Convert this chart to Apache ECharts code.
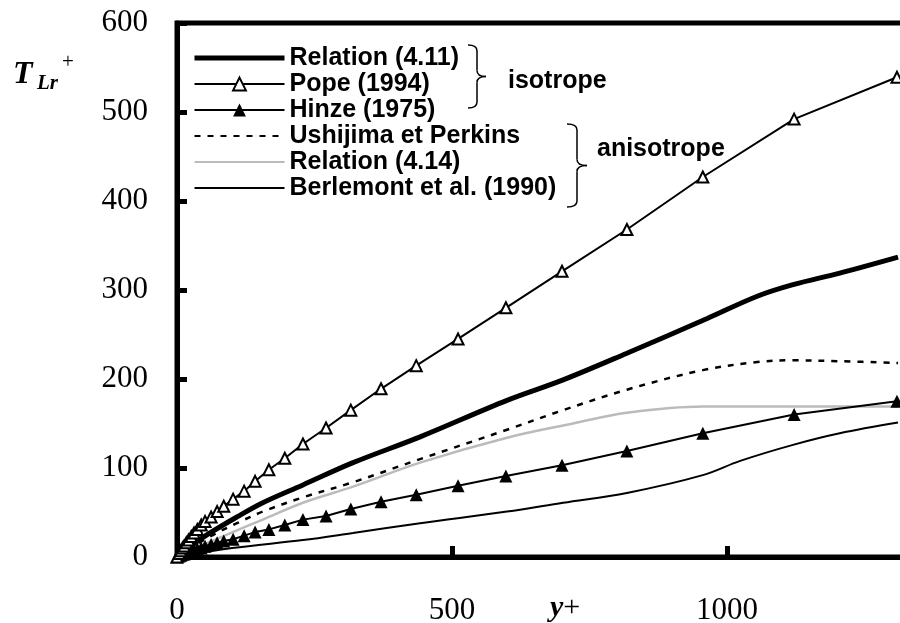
<!DOCTYPE html>
<html>
<head>
<meta charset="utf-8">
<script src="https://cdn.jsdelivr.net/npm/echarts@6/dist/echarts.min.js"></script>
<style>
  html, body { margin: 0; padding: 0; background: #fff; }
  #chart { width: 900px; height: 623px; }
</style>
</head>
<body>
<div id="chart"></div>
<script>
// y+ positions of the marked points (Pope and Hinze share them)
const markX = [0, 4, 7, 10, 13, 17, 21, 26, 31, 37, 44, 51, 62, 73, 85, 102, 122, 142, 167, 196, 229, 271, 316, 371, 435, 511, 598, 700, 818, 956, 1122, 1309];
const popeY = [0, 4, 7, 10, 12.5, 16, 19, 23, 27, 31, 36, 40, 45, 51, 57, 65, 74, 85, 98, 111, 127, 145, 165, 189, 215, 245, 280, 321, 368, 427, 492, 539];
const hinzeY = [0, 1, 2, 3, 3.5, 4.5, 5.5, 6.5, 7.5, 9, 10, 12, 14, 16, 18, 20, 24, 28, 31, 36, 42, 46, 54, 62, 70, 80, 91, 103, 119, 139, 160, 175];

const rel411X = [0, 20, 60, 109, 156, 229, 320, 442, 600, 702, 818, 964, 1055, 1120, 1205, 1311];
const rel411Y = [0, 10, 27, 45, 61, 81, 106, 135, 176, 199, 229, 268, 293, 306, 319, 337];

const ushX = [0, 20, 60, 109, 156, 229, 320, 442, 600, 702, 818, 956, 1055, 1120, 1205, 1311];
const ushY = [0, 8, 23, 38, 51, 67, 84, 110, 143, 165, 188, 210, 219, 221, 220, 218];

const rel414X = [0, 20, 60, 109, 156, 229, 320, 442, 600, 720, 818, 956, 1084, 1205, 1311];
const rel414Y = [0, 6, 17, 30, 42, 61, 79, 106, 134, 150, 162, 169, 169, 169, 169];

const berX = [0, 100, 229, 320, 442, 600, 702, 818, 956, 1024, 1120, 1205, 1311];
const berY = [0, 10, 19, 27, 38, 51, 61, 72, 92, 108, 126, 139, 151];

const names = ['Relation (4.11)', 'Pope (1994)', 'Hinze (1975)', 'Ushijima et Perkins', 'Relation (4.14)', 'Berlemont et al. (1990)'];

const pairs = (xs, ys) => xs.map((x, i) => [x, ys[i]]);

// curly brace opening to the right, built from quadratic curves and lines
function brace(x, y1, y2, w) {
    const m = (y1 + y2) / 2, h = x + w / 2, r = 6;
    const st = {stroke: '#000', lineWidth: 1.5, fill: null};
    const q = (a, b, c, d, e, f) => ({type: 'bezierCurve', shape: {x1: a, y1: b, cpx1: c, cpy1: d, x2: e, y2: f}, style: st});
    const l = (a, b, c, d) => ({type: 'line', shape: {x1: a, y1: b, x2: c, y2: d}, style: st});
    return [
        q(x, y1, h, y1, h, y1 + r),
        l(h, y1 + r, h, m - r),
        q(h, m - r, h, m, x + w, m),
        q(x + w, m, h, m, h, m + r),
        l(h, m + r, h, y2 - r),
        q(h, y2 - r, h, y2, x, y2)
    ];
}

const chart = echarts.init(document.getElementById('chart'));
const serif = 'Liberation Serif';
const sans = 'Liberation Sans';

chart.setOption({
    animation: false,
    backgroundColor: '#fff',
    grid: {
        left: 177, top: 23, width: 726, height: 534,
        outerBoundsMode: 'none',
        show: true, borderColor: '#000', borderWidth: 5
    },
    legend: {
        orient: 'vertical',
        left: 192, top: 45, padding: 0,
        itemWidth: 90, itemHeight: 16, itemGap: 0,
        textStyle: {fontFamily: sans, fontWeight: 'bold', fontSize: 25, lineHeight: 26, color: '#000'},
        data: [
            {name: names[0], itemStyle: {opacity: 0}, lineStyle: {width: 5}},
            {name: names[1]},
            {name: names[2]},
            {name: names[3], itemStyle: {opacity: 0}},
            {name: names[4], itemStyle: {opacity: 0}},
            {name: names[5], itemStyle: {opacity: 0}}
        ]
    },
    xAxis: {
        type: 'value', min: 0, max: 1320, interval: 500,
        axisLine: {lineStyle: {color: '#000', width: 5}},
        axisTick: {inside: true, length: 11, lineStyle: {color: '#000', width: 5}},
        axisLabel: {
            margin: 38, fontFamily: serif, fontSize: 31, color: '#000',
            showMaxLabel: false, formatter: v => String(v)
        },
        splitLine: {show: false}
    },
    yAxis: {
        type: 'value', min: 0, max: 600, interval: 100,
        axisLine: {show: true, lineStyle: {color: '#000', width: 5}},
        axisTick: {show: true, inside: true, length: 10, lineStyle: {color: '#000', width: 5}},
        axisLabel: {margin: 29, fontFamily: serif, fontSize: 31, color: '#000'},
        splitLine: {show: false}
    },
    graphic: [
        {type: 'text', left: 13, top: 59, style: {text: 'T', font: 'italic bold 32px "Liberation Serif"', fill: '#000'}},
        {type: 'text', left: 37, top: 73, style: {text: 'Lr', font: 'italic bold 21px "Liberation Serif"', fill: '#000'}},
        {type: 'text', left: 62, top: 52, style: {text: '+', font: '21px "Liberation Serif"', fill: '#000'}},
        {
            type: 'text', left: 550, top: 593,
            style: {
                text: '{a|y}{b|+}',
                rich: {
                    a: {font: 'italic bold 30px "Liberation Serif"', fill: '#000'},
                    b: {font: '30px "Liberation Serif"', fill: '#000'}
                }
            }
        },
        {type: 'text', left: 508, top: 69, style: {text: 'isotrope', font: 'bold 25px "Liberation Sans"', fill: '#000'}},
        {type: 'text', left: 597, top: 137, style: {text: 'anisotrope', font: 'bold 25px "Liberation Sans"', fill: '#000'}},
        ...brace(468, 45, 108, 18),
        ...brace(567, 124, 207, 20)
    ],
    series: [
        {
            name: names[5], type: 'line', data: pairs(berX, berY),
            symbol: 'none', smooth: 0.35,
            lineStyle: {color: '#000', width: 2}
        },
        {
            name: names[4], type: 'line', data: pairs(rel414X, rel414Y),
            symbol: 'none', smooth: 0.35,
            lineStyle: {color: '#bbbbbb', width: 2.5}
        },
        {
            name: names[3], type: 'line', data: pairs(ushX, ushY),
            symbol: 'none', smooth: 0.35,
            lineStyle: {color: '#000', width: 2.5, type: [6, 7]}
        },
        {
            name: names[0], type: 'line', data: pairs(rel411X, rel411Y),
            symbol: 'none', smooth: 0.35,
            lineStyle: {color: '#000', width: 5}
        },
        {
            name: names[2], type: 'line', data: pairs(markX, hinzeY),
            symbol: 'triangle', symbolSize: 13,
            itemStyle: {color: '#000'},
            lineStyle: {color: '#000', width: 2}
        },
        {
            name: names[1], type: 'line', data: pairs(markX, popeY),
            symbol: 'emptyTriangle', symbolSize: 11,
            itemStyle: {color: '#000', borderWidth: 1.5},
            lineStyle: {color: '#000', width: 2}
        }
    ]
});
</script>
</body>
</html>
